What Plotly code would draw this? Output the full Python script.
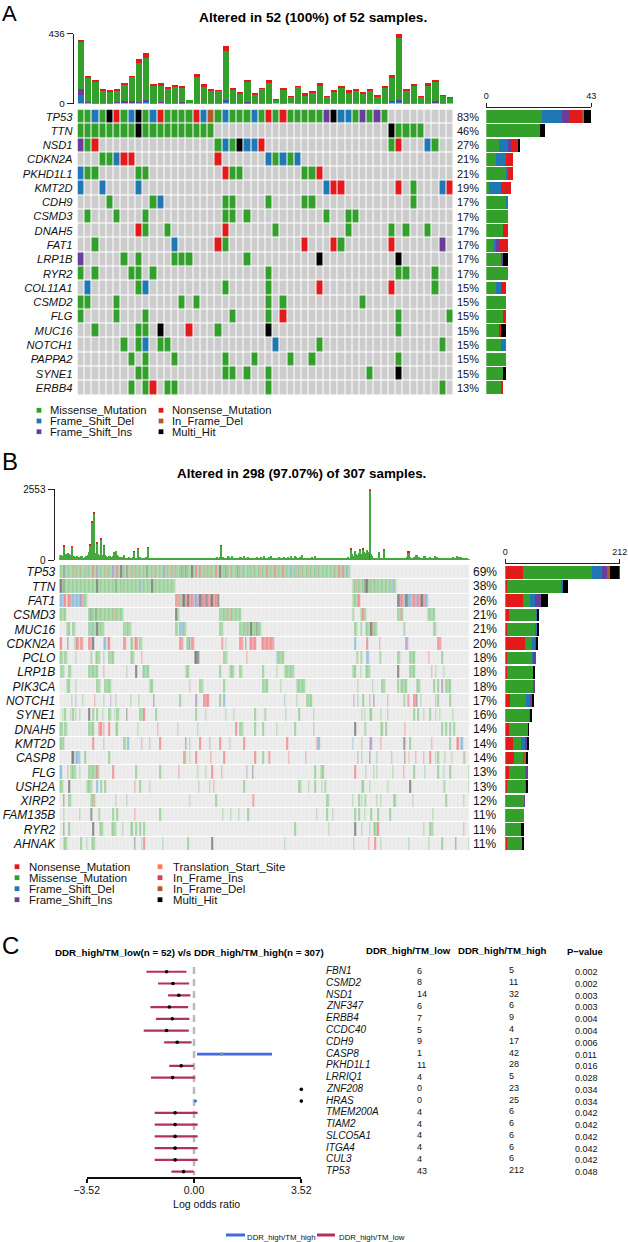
import plotly.graph_objects as go

W, H = 628, 1242
SANS = "Liberation Sans"

# ---------------- panel A data ----------------
A_GENES = ["TP53","TTN","NSD1","CDKN2A","PKHD1L1","KMT2D","CDH9","CSMD3","DNAH5","FAT1",
           "LRP1B","RYR2","COL11A1","CSMD2","FLG","MUC16","NOTCH1","PAPPA2","SYNE1","ERBB4"]
A_PCT = ["83%","46%","27%","21%","21%","19%","17%","17%","17%","17%",
         "17%","17%","15%","15%","15%","15%","15%","15%","15%","13%"]
A_ROWS = [
 "GGBGKRGBKGBRGGGGRBOGBGGGBGRGRGGGGG" + "PKBBGPGPG" + "." * 9,
 "GGGGGGGGKGGGGGGGGGG" + "." * 24 + "KGGGG" + "." * 4,
 "PGR................GBGKBBR.................GR...BG..",
 "...GGBRR...........R......BGBGB.....................",
 "BGG.....GG..........RGG........GGR..................",
 "B..B....B.........................BRR.......R.G...BR",
 "....G.....GB........GG....G....GG.............G.....",
 ".G...G...G..........GG.G..........G..GG.............",
 "........RG..G.......R......G.........G.....G.G..G...",
 "..G..........B.....RG..........R...RG......R......P.",
 "P.....G.G....GGG.......G.........K..........K.......",
 "G.G....GG.G...............G.................GG...G..",
 ".B......GB..........G.....G......R.........R.....G..",
 "GG...G........G.G.........G.G..........G............",
 "G....G...G...........G....G.R...............G......G",
 "..G.....GG.K...R...G......K.................G.......",
 "......G.GB.GG..............B.....G................G.",
 ".......G.G...G......G...G....G..G...........G.......",
 "........GG..........GG.G..G.............G...K.......",
 ".......G.GR.GG............G.......................G.",
]

A_TOP_TOTAL = [395,169,147,89,83,89,126,174,275,314,120,128,101,114,107,23,182,122,89,85,
               357,95,70,149,64,97,147,31,95,45,110,64,78,126,47,85,110,83,91,72,
               89,50,110,176,436,91,120,48,128,147,54,39]
A_TOP_RED = [8,2,8,2,4,2,7,4,20,28,3,10,3,2,3,0,8,12,6,3,32,4,2,8,2,3,12,1,6,1,4,8,6,8,2,8,10,10,5,4,
             5,2,6,10,28,5,4,1,10,6,2,1]
A_TOP_BLUE = [54,10,4,3,4,8,12,12,10,16,5,8,3,3,6,2,3,3,3,4,18,3,2,6,3,3,4,2,3,2,4,3,3,4,3,4,5,4,3,3,
              3,2,4,15,18,3,3,2,4,12,3,2]
A_TOP_PURPLE = [37,2,1,1,1,2,2,2,2,3,1,2,1,1,1,0,1,1,1,1,4,1,1,2,1,1,1,0,1,0,1,1,1,1,1,1,1,1,1,1,
                1,1,1,3,4,1,1,1,1,2,1,0]

# ---------------- panel B data ----------------
B_GENES = ["TP53","TTN","FAT1","CSMD3","MUC16","CDKN2A","PCLO","LRP1B","PIK3CA","NOTCH1",
           "SYNE1","DNAH5","KMT2D","CASP8","FLG","USH2A","XIRP2","FAM135B","RYR2","AHNAK"]
B_PCT = ["69%","38%","26%","21%","21%","20%","18%","18%","18%","17%",
         "16%","14%","14%","14%","13%","13%","12%","11%","11%","11%"]
# each row: (first sample, last sample, class) runs
B_TP53_STRIPES = {3:"K",5:"B",11:"R",15:"R",20:"P",25:"R",28:"P",35:"R",39:"B",40:"P",43:"R",46:"K",50:"K",
                  53:"R",55:"R",58:"R",65:"K",71:"R",78:"P",83:"R",85:"R",88:"B",91:"K",94:"K",99:"K",102:"R",
                  105:"R",109:"R",112:"R",117:"R",120:"K",124:"K",128:"R",133:"K",137:"P",142:"B",145:"R",
                  150:"R",155:"R",161:"R",167:"R",173:"B",177:"P",180:"R",186:"R",192:"P",199:"B",205:"R",
                  209:"R",212:"R",215:"B"}
B_RUNS = {
 "TP53": [(0,217,"G")] + [(k,k,v) for k,v in B_TP53_STRIPES.items()],
 "TTN": [(0,86,"G"),(0,0,"K"),(1,1,"K"),(3,3,"K"),(28,28,"K"),(42,42,"K"),(60,60,"B"),(69,69,"K"),
         (219,251,"G"),(222,222,"R"),(228,230,"K"),(232,232,"O"),(235,235,"P"),(248,249,"B")],
 "FAT1": [(0,2,"B"),(3,4,"R"),(6,6,"P"),(7,8,"R"),(9,14,"B"),(15,16,"P"),(17,17,"R"),(18,20,"G"),
          (87,89,"R"),(90,90,"G"),(91,91,"R"),(92,93,"K"),(94,95,"R"),(96,96,"K"),(97,99,"R"),(100,101,"B"),
          (102,104,"P"),(105,106,"K"),(107,108,"R"),(109,110,"K"),(111,112,"R"),(113,114,"K"),(115,117,"R"),(118,119,"K"),
          (219,222,"G"),(223,224,"R"),(253,254,"K"),(255,256,"R"),(257,258,"B"),(259,260,"K"),(261,263,"B"),
          (264,265,"R"),(266,267,"P"),(268,269,"R"),(270,271,"K"),(272,273,"R"),(274,275,"B")],
 "CSMD3": [(0,4,"G"),(22,47,"G"),(23,23,"K"),(27,27,"K"),(30,30,"R"),(41,41,"R"),(87,87,"K"),(88,89,"G"),
           (120,135,"G"),(124,124,"R"),(128,128,"R"),(219,220,"G"),(225,229,"G"),(227,227,"R"),(253,256,"G"),(255,255,"R"),(275,280,"G")],
 "MUC16": [(5,7,"G"),(10,11,"G"),(22,33,"G"),(23,24,"B"),(28,28,"K"),(48,53,"G"),(87,88,"G"),(90,92,"B"),(93,94,"G"),
           (120,122,"G"),(135,150,"G"),(139,139,"R"),(143,143,"K"),(147,147,"K"),
           (221,222,"G"),(225,226,"G"),(229,237,"G"),(233,233,"K"),(234,234,"R"),(257,258,"G"),(280,281,"G")],
 "CDKN2A": [(0,1,"R"),(6,6,"K"),(11,12,"G"),(13,14,"R"),(16,17,"R"),(22,23,"R"),(24,24,"B"),(25,25,"K"),(33,34,"B"),(36,37,"R"),
            (48,49,"R"),(53,54,"G"),(56,58,"R"),(60,61,"G"),(90,92,"R"),(95,96,"G"),(97,97,"K"),(99,100,"R"),
            (121,122,"R"),(124,124,"G"),(135,137,"R"),(139,139,"K"),(142,146,"R"),(151,160,"R"),
            (221,221,"B"),(230,230,"R"),(239,239,"R"),(259,260,"P"),(283,285,"R")],
 "PCLO": [(0,2,"G"),(4,5,"G"),(12,12,"G"),(23,24,"G"),(27,30,"G"),(33,33,"B"),(37,40,"G"),(53,55,"G"),(61,61,"R"),
          (101,104,"K"),(123,125,"G"),(140,140,"R"),(162,162,"B"),(163,167,"G"),(222,223,"G"),(225,226,"G"),(230,231,"B"),
          (239,240,"G"),(253,254,"G"),(262,265,"G"),(276,276,"R"),(286,286,"G")],
 "LRP1B": [(1,3,"G"),(7,8,"G"),(22,28,"G"),(33,33,"R"),(50,50,"G"),(57,57,"K"),(62,66,"G"),(94,96,"G"),(120,120,"G"),
           (127,130,"G"),(135,136,"G"),(152,152,"G"),(162,162,"G"),(168,175,"G"),(219,221,"G"),(225,225,"G"),(229,230,"G"),
           (231,232,"G"),(253,253,"K"),(262,265,"G"),(278,278,"R"),(281,281,"G"),(287,287,"G")],
 "PIK3CA": [(5,7,"G"),(12,12,"G"),(28,30,"G"),(34,38,"G"),(67,69,"G"),(97,97,"G"),(105,107,"G"),(123,123,"G"),(152,155,"G"),
            (165,165,"G"),(177,183,"G"),(223,223,"G"),(234,234,"G"),(241,243,"G"),(253,253,"G"),(255,259,"G"),(267,269,"G"),
            (280,280,"G"),(283,283,"G"),(286,286,"P"),(289,292,"G")],
 "NOTCH1": [(9,9,"G"),(12,12,"B"),(17,17,"G"),(26,26,"R"),(33,33,"G"),(38,38,"P"),(42,42,"G"),(53,53,"G"),(59,59,"G"),(70,70,"K"),
            (90,90,"G"),(102,102,"P"),(108,111,"R"),(120,120,"G"),(123,123,"B"),(168,168,"B"),(177,177,"G"),(185,188,"G"),
            (220,220,"P"),(223,223,"B"),(227,227,"G"),(232,232,"P"),(235,235,"K"),(245,245,"R"),(257,258,"G"),(260,261,"R"),
            (265,266,"R"),(267,267,"K"),(270,270,"G"),(281,281,"P"),(283,283,"G"),(292,292,"G")],
 "SYNE1": [(2,2,"G"),(4,4,"G"),(8,8,"G"),(10,10,"G"),(12,12,"G"),(15,15,"G"),(22,22,"K"),(25,25,"G"),(28,28,"G"),(32,32,"G"),
           (37,38,"G"),(41,41,"G"),(43,44,"G"),(50,50,"K"),(60,62,"G"),(63,63,"R"),(72,72,"G"),(102,102,"G"),(109,109,"G"),
           (124,124,"G"),(130,130,"G"),(146,146,"G"),(153,154,"G"),(169,169,"G"),(179,179,"G"),(190,190,"G"),(226,226,"G"),
           (228,228,"G"),(232,233,"G"),(240,240,"G"),(245,245,"B"),(265,265,"G"),(268,268,"G"),(272,272,"G"),(277,277,"G"),
           (281,281,"G"),(284,284,"G"),(294,294,"G")],
 "DNAH5": [(0,2,"G"),(4,5,"G"),(22,25,"G"),(29,31,"R"),(33,33,"R"),(37,37,"R"),(42,43,"G"),(58,58,"G"),(73,73,"R"),(88,88,"G"),
           (103,103,"G"),(132,132,"R"),(135,137,"G"),(146,146,"G"),(152,152,"G"),(162,162,"G"),(176,176,"G"),(190,190,"R"),
           (221,221,"K"),(228,229,"G"),(240,241,"G"),(244,244,"G"),(258,258,"R"),(286,286,"G"),(289,289,"G"),(292,292,"G"),(295,295,"G")],
 "KMT2D": [(0,2,"G"),(3,3,"P"),(25,25,"R"),(33,33,"B"),(48,49,"G"),(51,51,"B"),(61,61,"R"),(67,67,"B"),(75,75,"R"),(94,94,"K"),
           (97,97,"B"),(105,105,"R"),(112,112,"P"),(120,120,"R"),(127,127,"G"),(138,138,"R"),(170,170,"R"),(192,192,"R"),
           (193,194,"B"),(219,219,"B"),(226,226,"G"),(232,233,"P"),(240,240,"R"),(257,258,"K"),(262,262,"G"),(278,278,"R"),
           (292,292,"G"),(297,298,"R"),(300,301,"B")],
 "CASP8": [(9,10,"K"),(12,15,"B"),(19,19,"G"),(37,37,"G"),(93,93,"O"),(94,94,"G"),(97,97,"G"),(102,102,"R"),(113,113,"R"),
           (123,123,"R"),(146,146,"R"),(152,152,"G"),(156,157,"R"),(171,171,"R"),(184,184,"R"),(223,223,"P"),(226,226,"G"),
           (232,232,"K"),(237,237,"B"),(248,248,"R"),(258,258,"K"),(261,261,"T"),(266,266,"R"),(272,272,"R"),(277,277,"R"),
           (281,281,"G"),(283,283,"G"),(288,288,"G"),(293,293,"G"),(302,302,"R"),(303,303,"G")],
 "FLG": [(0,1,"B"),(6,6,"R"),(8,12,"G"),(15,15,"G"),(22,29,"G"),(28,28,"R"),(40,40,"R"),(57,57,"G"),(75,75,"G"),(89,89,"R"),
         (103,103,"G"),(109,109,"G"),(114,114,"R"),(121,121,"R"),(140,140,"P"),(144,144,"K"),(191,191,"G"),(195,197,"G"),
         (221,221,"R"),(229,229,"G"),(235,235,"G"),(237,237,"G"),(249,249,"G"),(257,257,"R"),(265,265,"G"),(273,273,"G"),
         (283,283,"G"),(287,287,"G"),(292,292,"G"),(306,306,"G")],
 "USH2A": [(0,2,"G"),(7,7,"K"),(20,24,"G"),(28,28,"B"),(31,31,"G"),(34,34,"G"),(56,56,"R"),(60,60,"G"),(67,67,"G"),(104,104,"G"),
           (112,112,"G"),(115,115,"R"),(138,138,"G"),(179,180,"G"),(186,186,"G"),(191,191,"G"),(196,196,"G"),(198,199,"G"),
           (226,227,"G"),(232,232,"G"),(245,245,"G"),(262,262,"K"),(287,288,"G"),(306,306,"G")],
 "XIRP2": [(3,3,"K"),(7,8,"G"),(23,25,"G"),(26,26,"R"),(42,42,"G"),(50,50,"G"),(97,97,"G"),(117,117,"G"),(144,145,"R"),
           (200,201,"G"),(219,219,"G"),(224,224,"G"),(226,226,"G"),(228,229,"G"),(237,237,"G"),(240,240,"G"),(250,251,"G"),
           (264,264,"G"),(289,289,"G"),(302,302,"G")],
 "FAM135B": [(3,3,"G"),(15,15,"G"),(23,24,"K"),(29,30,"G"),(40,40,"G"),(43,43,"G"),(56,56,"R"),(75,75,"G"),(122,122,"G"),
             (128,128,"G"),(134,134,"G"),(141,141,"G"),(192,192,"G"),(200,200,"G"),(204,204,"G"),(221,221,"G"),(224,224,"G"),
             (228,228,"G"),(233,233,"G"),(238,238,"G"),(247,247,"G"),(279,279,"G")],
 "RYR2": [(3,3,"K"),(7,7,"G"),(25,25,"K"),(30,32,"G"),(39,42,"G"),(47,47,"G"),(53,54,"G"),(57,57,"G"),(60,60,"G"),(63,63,"G"),
          (176,176,"G"),(201,201,"G"),(221,221,"K"),(226,226,"G"),(232,232,"G"),(235,237,"G"),(238,238,"R"),(272,272,"G"),
          (277,279,"G"),(302,302,"R")],
 "AHNAK": [(3,5,"G"),(16,16,"G"),(20,20,"G"),(24,26,"G"),(56,56,"K"),(61,61,"G"),(63,63,"R"),(77,77,"G"),(96,96,"G"),(114,114,"K"),
           (168,168,"G"),(220,220,"G"),(231,231,"R"),(236,236,"R"),(240,240,"G"),(261,261,"G"),(276,276,"G"),(286,286,"G"),
           (296,296,"K"),(306,306,"G")],
}
B_TOP_TOTAL = [170,190,150,530,180,200,240,210,170,490,120,130,110,140,100,120,130,150,90,120,
 140,190,300,550,1397,200,1722,260,626,220,180,770,190,530,170,150,120,140,130,110,
 150,300,310,190,130,110,100,120,180,90,80,70,110,60,90,100,310,90,70,410,
 120,80,70,60,90,110,457,90,50,60,70,50,60,80,60,50,70,40,60,90,
 50,40,60,70,50,40,60,45,55,70,80,60,40,50,65,75,90,50,60,40,
 55,70,60,45,50,80,60,70,40,55,65,50,40,70,60,80,50,60,100,90,
 110,530,120,90,60,70,140,100,80,130,70,60,90,50,80,120,110,90,130,70,
 60,100,80,50,70,90,60,80,110,60,70,100,80,130,60,50,70,110,160,70,
 90,60,50,80,120,60,90,70,110,80,60,110,70,130,80,60,140,120,70,60,
 100,180,70,50,90,60,40,50,70,110,60,140,50,40,60,30,50,70,45,35,
 60,40,30,50,70,35,60,40,55,30,50,65,35,60,40,55,120,80,410,230,
 150,337,200,180,260,385,220,410,300,240,360,280,2553,200,130,90,60,70,40,290,
 60,50,70,385,80,50,60,40,90,50,70,60,40,80,60,50,70,60,90,70,
 100,300,120,90,70,110,60,180,80,100,60,90,80,150,60,70,50,110,90,70,
 60,130,100,80,50,70,90,60,40,80,70,50,90,60,110,80,70,130,60,120,
 110,70,50,90,40,30,20]
B_TOP_RED = {3:40,9:30,23:40,24:50,26:60,28:30,31:40,33:30,56:20,59:20,66:25,121:30,218:30,225:20,227:25,232:50,243:20,261:25}
B_TOP_BLUE = {0:30,23:40,26:50,218:30,232:220,227:40,229:30}

B_BAR_RED    = [33,3,33,7,4,37,3,2.5,0,9,1,7,14,16,7,3,2,1,2,2.5]
B_BAR_GREEN  = [127,101,13,51,53,12,46,50,53,29,45,36,15,18,31,35,34,33,29,30]
B_BAR_BLUE   = [19,3,9,1,2,7,4,0,0,8,1,0,7,2,1.5,1,0,0,0,0]
B_BAR_PURPLE = [10,0,12,0,0,2,3,0,2,4,0,0,5,0,2,0,1,0,0,0]
B_BAR_OTHER  = [5,0,0,0,0,0,0,0,0,0,0,0,0,2,0,0,0,0,0,0]
B_BAR_BLACK  = [18,10,12,4,4,2,0,2,0,4,2,1,2,4,0,2,0,0,3,3]

# ---------------- panel C data ----------------
C_GENES = ["FBN1","CSMD2","NSD1","ZNF347","ERBB4","CCDC40","CDH9","CASP8","PKHD1L1","LRRIQ1",
           "ZNF208","HRAS","TMEM200A","TIAM2","SLCO5A1","ITGA4","CUL3","TP53"]
C_LOW  = [6,8,14,6,7,5,9,1,11,4,0,0,4,4,4,4,4,43]
C_HIGH = [5,11,32,6,9,4,17,42,28,5,23,25,6,6,6,6,6,212]
C_P = ["0.002","0.002","0.003","0.003","0.004","0.004","0.006","0.011","0.016","0.028",
       "0.034","0.034","0.042","0.042","0.042","0.042","0.042","0.048"]
C_OR = [-0.90,-0.69,-0.50,-0.81,-0.71,-0.90,-0.55,0.91,-0.42,-0.70,3.52,3.52,-0.62,-0.62,-0.62,-0.62,-0.62,-0.34]
C_LO = [-1.56,-1.18,-0.85,-1.43,-1.25,-1.65,-0.98,0.10,-0.81,-1.41,None,0.05,-1.29,-1.29,-1.29,-1.29,-1.29,-0.74]
C_HI = [-0.25,-0.16,-0.12,-0.19,-0.15,-0.17,-0.08,2.56,-0.01,0.04,None,0.05,0.12,0.12,0.12,0.12,0.12,-0.01]

# ---------------- styles ----------------
GREEN, BLUE, PURPLE, RED, BROWN, BLACK = "#33A02C", "#1F78B4", "#6A3D9A", "#E31A1C", "#B15928", "#000000"
ORANGE, INSRED = "#FF7F50", "#D6405A"
MAROON, ROYAL = "#B03060", "#4169E1"
A_CODES = {".":0,"G":1,"B":2,"P":3,"R":4,"O":5,"K":6}
B_CODES = {".":0,"G":1,"B":2,"P":3,"R":4,"O":5,"K":6,"T":7}

def step_scale(colors):
    n = len(colors)
    out = []
    for i, c in enumerate(colors):
        out += [[i / n, c], [(i + 1) / n, c]]
    return out

def dx(a, b): return [a / W, b / W]
def dy(t, b): return [1 - b / H, 1 - t / H]

fig = go.Figure()
layout = {}
ann = []
shapes = []

def txt(x, y, s, size=10, anchor="left", color="#111111"):
    ann.append(dict(x=x / W, y=1 - y / H, xref="paper", yref="paper", text=s, showarrow=False,
                    xanchor=anchor, yanchor="middle", font=dict(family=SANS, size=size, color=color),
                    borderpad=0, align=anchor))

def hidden(**kw):
    d = dict(visible=False, fixedrange=True, automargin=False)
    d.update(kw)
    return d

def stack(xaxis, yaxis, x, y, color, orient="v", width=None):
    fig.add_trace(go.Bar(x=x, y=y, orientation=orient, marker=dict(color=color, line=dict(width=0)),
                         xaxis=xaxis, yaxis=yaxis, showlegend=False, hoverinfo="skip", width=width))

# ---- A top bars
A_IDX = list(range(52))
A_TOP_GREEN = [t - r - b - p for t, r, b, p in zip(A_TOP_TOTAL, A_TOP_RED, A_TOP_BLUE, A_TOP_PURPLE)]
for vals, col in [(A_TOP_BLUE, BLUE), (A_TOP_PURPLE, PURPLE), (A_TOP_GREEN, GREEN), (A_TOP_RED, RED)]:
    stack("x", "y", A_IDX, vals, col, width=0.86)
layout["xaxis"] = hidden(domain=dx(77.5, 453.5), range=[-0.5, 51.5])
layout["yaxis"] = dict(domain=dy(33.5, 103.5), range=[0, 436], anchor="free", position=72.7 / W, automargin=False,
                       showline=True, linecolor="#222", linewidth=1, ticks="outside", ticklen=6, tickcolor="#222",
                       tickvals=[0, 436], showgrid=False, zeroline=False, fixedrange=True,
                       tickfont=dict(family=SANS, size=9.8, color="#111"))

# ---- A matrix
A_Z = [[A_CODES[c] for c in row] for row in A_ROWS]
fig.add_trace(go.Heatmap(z=A_Z, x=A_IDX, y=list(range(20)), zmin=-0.5, zmax=6.5, showscale=False, xgap=1.0, ygap=1.1,
                         colorscale=step_scale(["#CCCCCC", GREEN, BLUE, PURPLE, RED, BROWN, BLACK]),
                         xaxis="x2", yaxis="y2", hoverinfo="skip"))
layout["xaxis2"] = hidden(domain=dx(77.5, 453.5), range=[-0.5, 51.5], anchor="y2")
layout["yaxis2"] = dict(domain=dy(109.5, 395), range=[19.5, -0.5], anchor="x2", tickmode="array", tickvals=list(range(20)),
                        ticktext=[f"<i>{g}</i>" for g in A_GENES], ticks="", showline=False, showgrid=False, zeroline=False,
                        ticklabelstandoff=4, fixedrange=True, automargin=False, tickfont=dict(family=SANS, size=11.2, color="#111"))
for i, p in enumerate(A_PCT):
    ann.append(dict(x=455 / W, xref="paper", y=i, yref="y2", text=p, showarrow=False, xanchor="left",
                    font=dict(family=SANS, size=11, color="#111")))

# ---- A right bars (counted from the matrix)
for letter, col in [("G", GREEN), ("B", BLUE), ("P", PURPLE), ("R", RED), ("O", BROWN), ("K", BLACK)]:
    counts = [row.count(letter) for row in A_ROWS]
    stack("x3", "y3", counts, list(range(20)), col, orient="h", width=0.9)
layout["xaxis3"] = dict(domain=dx(486.3, 591.3), range=[0, 43], anchor="free", position=1 - 107 / H, side="top", automargin=False,
                        showline=True, linecolor="#222", linewidth=1, ticks="outside", ticklen=4, tickcolor="#222",
                        tickvals=[0, 43], showgrid=False, zeroline=False, fixedrange=True,
                        tickfont=dict(family=SANS, size=9, color="#111"))
layout["yaxis3"] = hidden(domain=dy(109.5, 395), range=[19.5, -0.5], anchor="x3")

# ---- B top bars
B_IDX = list(range(307))
B_RED = [B_TOP_RED.get(i, 0) for i in B_IDX]
B_BLUE = [B_TOP_BLUE.get(i, 0) for i in B_IDX]
B_GREEN = [t - r - b for t, r, b in zip(B_TOP_TOTAL, B_RED, B_BLUE)]
for vals, col in [(B_BLUE, BLUE), (B_GREEN, "#45A83F"), (B_RED, RED)]:
    stack("x4", "y4", B_IDX, vals, col, width=0.95)
layout["xaxis4"] = hidden(domain=dx(59.3, 469.7), range=[-0.5, 306.5], anchor="y4")
layout["yaxis4"] = dict(domain=dy(489.3, 560), range=[0, 2553], anchor="free", position=53.5 / W, automargin=False,
                        showline=True, linecolor="#222", linewidth=1, ticks="outside", ticklen=6, tickcolor="#222",
                        tickvals=[0, 2553], showgrid=False, zeroline=False, fixedrange=True,
                        tickfont=dict(family=SANS, size=10, color="#111"))

# ---- B matrix
B_Z = []
for g in B_GENES:
    row = [0] * 307
    for a, b, c in B_RUNS[g]:
        for i in range(a, b + 1):
            row[i] = B_CODES[c]
    B_Z.append(row)
B_WASH = ["#E6E6E6", "#8FCA8F", "#84B6D6", "#AB96C4", "#EA8486", "#D09A7E", "#707070", "#F5A585"]
fig.add_trace(go.Heatmap(z=B_Z, x=B_IDX, y=list(range(20)), zmin=-0.5, zmax=7.5, showscale=False, xgap=0.3, ygap=1.1,
                         colorscale=step_scale(B_WASH), xaxis="x5", yaxis="y5", hoverinfo="skip"))
layout["xaxis5"] = hidden(domain=dx(59.3, 469.7), range=[-0.5, 306.5], anchor="y5")
layout["yaxis5"] = dict(domain=dy(565, 851), range=[19.5, -0.5], anchor="x5", tickmode="array", tickvals=list(range(20)),
                        ticktext=[f"<i>{g}</i>" for g in B_GENES], ticks="", showline=False, showgrid=False, zeroline=False,
                        ticklabelstandoff=3, fixedrange=True, automargin=False, tickfont=dict(family=SANS, size=12, color="#111"))
for i, p in enumerate(B_PCT):
    ann.append(dict(x=471 / W, xref="paper", y=i, yref="y5", text=p, showarrow=False, xanchor="left",
                    font=dict(family=SANS, size=12, color="#111")))

# ---- B right bars
B_ROW = list(range(20))
for vals, col in [(B_BAR_RED, RED), (B_BAR_GREEN, GREEN), (B_BAR_BLUE, BLUE), (B_BAR_PURPLE, PURPLE),
                  (B_BAR_OTHER, BROWN), (B_BAR_BLACK, BLACK)]:
    stack("x6", "y6", vals, B_ROW, col, orient="h", width=0.9)
layout["xaxis6"] = dict(domain=dx(505.3, 619.7), range=[0, 212], anchor="free", position=1 - 562.7 / H, side="top", automargin=False,
                        showline=True, linecolor="#222", linewidth=1, ticks="outside", ticklen=4, tickcolor="#222",
                        tickvals=[0, 212], showgrid=False, zeroline=False, fixedrange=True,
                        tickfont=dict(family=SANS, size=9, color="#111"))
layout["yaxis6"] = hidden(domain=dy(565, 851), range=[19.5, -0.5], anchor="x6")

# ---- C forest plot
rows = list(range(18))
fig.add_trace(go.Scatter(x=[0, 0], y=[-0.4, 17.3], mode="lines", line=dict(color="#B8B8B8", width=2.5, dash="7px,5px"),
                         xaxis="x7", yaxis="y7", showlegend=False, hoverinfo="skip"))
mx, my, bx, by = [], [], [], []
for i in rows:
    if C_LO[i] is None or C_LO[i] == C_HI[i]:
        continue
    tx, ty = (bx, by) if C_OR[i] > 0 else (mx, my)
    tx += [C_LO[i], C_HI[i], None]
    ty += [i, i, None]
fig.add_trace(go.Scatter(x=mx, y=my, mode="lines", line=dict(color=MAROON, width=2.2), xaxis="x7", yaxis="y7",
                         showlegend=False, hoverinfo="skip"))
fig.add_trace(go.Scatter(x=bx, y=by, mode="lines", line=dict(color=ROYAL, width=2.8), xaxis="x7", yaxis="y7",
                         showlegend=False, hoverinfo="skip"))
fig.add_trace(go.Scatter(x=[C_LO[11]], y=[11], mode="markers", marker=dict(color=ROYAL, size=3), xaxis="x7", yaxis="y7",
                         showlegend=False, hoverinfo="skip"))
C_COL = ["#7f8fb8" if v == 0.91 else "black" for v in C_OR]
fig.add_trace(go.Scatter(x=C_OR, y=rows, mode="markers", marker=dict(color=C_COL, size=3.6), xaxis="x7", yaxis="y7",
                         showlegend=False, hoverinfo="skip", cliponaxis=False))
layout["xaxis7"] = dict(domain=dx(86.7, 301.3), range=[-3.52, 3.52], anchor="y7", showline=True, linecolor="#111", linewidth=1.5,
                        ticks="outside", ticklen=4, tickcolor="#111", tickwidth=1.5, tickmode="array", automargin=False,
                        tickvals=[-3.52, 0, 3.52], ticktext=["\u22123.52", "0.00", "3.52"], showgrid=False, zeroline=False,
                        fixedrange=True, ticklabelstandoff=-2, tickfont=dict(family=SANS, size=10.5, color="#111"))
layout["yaxis7"] = hidden(domain=dy(962, 1177.3), range=[17.48, -0.83], anchor="x7")
txt(172, 1204, "Log odds ratio", size=10.6)

for i in rows:
    y = 971.7 + i * 200 / 17
    txt(325, y - 1, f"<i>{C_GENES[i]}</i>", size=10)
    txt(416, y - 1, str(C_LOW[i]), size=9)
    txt(507.7, y - 1.5, str(C_HIGH[i]), size=9)
    txt(573.5, y + 0.5, C_P[i], size=9)

# ---- texts
txt(1, 13, "A", size=22, color="black")
txt(1, 461, "B", size=24, color="black")
txt(1, 945, "C", size=24, color="black")
txt(198, 18, "<b>Altered in 52 (100%) of 52 samples.</b>", size=13.7, color="black")
txt(176, 474, "<b>Altered in 298 (97.07%) of 307 samples.</b>", size=13.4, color="black")
txt(54, 952.5, "<b>DDR_high/TM_low(n = 52) v/s DDR_high/TM_high(n = 307)</b>", size=9.75, color="black")
txt(365, 950.5, "<b>DDR_high/TM_low</b>", size=9.6, color="black")
txt(456.5, 950.5, "<b>DDR_high/TM_high</b>", size=9.6, color="black")
txt(566, 951.5, "<b>P\u2212value</b>", size=9.4, color="black")

def swatch(cx, cy, col, half=2.4):
    shapes.append(dict(type="rect", xref="paper", yref="paper", x0=(cx - half) / W, x1=(cx + half) / W,
                       y0=1 - (cy + half) / H, y1=1 - (cy - half) / H, fillcolor=col, line=dict(width=0)))

for label, col, sx, tx, y, fs in [("Missense_Mutation", GREEN, 39, 49, 410.3, 11.2), ("Frame_Shift_Del", BLUE, 39, 49, 421, 11.2),
                              ("Frame_Shift_Ins", PURPLE, 39, 49, 431.7, 11.2), ("Nonsense_Mutation", RED, 161, 171, 410.3, 11.2),
                              ("In_Frame_Del", BROWN, 161, 171, 421, 11.2), ("Multi_Hit", BLACK, 161, 171, 431.7, 11.2),
                              ("Nonsense_Mutation", RED, 17, 28, 866.7, 11.4), ("Missense_Mutation", GREEN, 17, 28, 877.7, 11.4),
                              ("Frame_Shift_Del", BLUE, 17, 28, 888.7, 11.4), ("Frame_Shift_Ins", PURPLE, 17, 28, 899.7, 11.4),
                              ("Translation_Start_Site", ORANGE, 160, 172, 866.7, 11.4), ("In_Frame_Ins", INSRED, 160, 172, 877.7, 11.4),
                              ("In_Frame_Del", BROWN, 160, 172, 888.7, 11.4), ("Multi_Hit", BLACK, 160, 172, 899.7, 11.4)]:
    swatch(sx, y, col)
    txt(tx, y, label, size=fs)

# C legend
for x0, x1, col in [(226, 245, ROYAL), (317, 335, MAROON)]:
    shapes.append(dict(type="line", xref="paper", yref="paper", x0=x0 / W, x1=x1 / W, y0=1 - 1235 / H, y1=1 - 1235 / H,
                       line=dict(color=col, width=3)))
txt(246, 1237, "DDR_high/TM_high", size=7.8)
txt(338, 1237, "DDR_high/TM_low", size=7.8)

fig.update_layout(width=W, height=H, margin=dict(l=0, r=0, t=0, b=0), paper_bgcolor="white", plot_bgcolor="white",
                  barmode="stack", annotations=ann, shapes=shapes, showlegend=False, **layout)
fig.write_html("out.html", post_script="document.body.style.margin='0';document.body.style.overflow='hidden';",
               config={"displayModeBar": False})
